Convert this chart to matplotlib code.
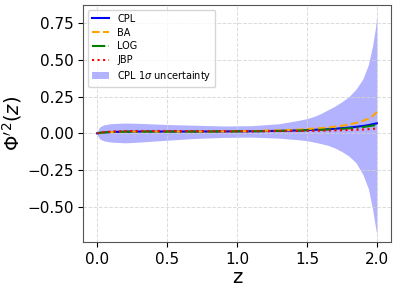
import numpy as np
from matplotlib import pyplot as plt

# 红移采样点
z = [0.0, 0.02, 0.05, 0.1, 0.2, 0.3, 0.5, 0.7, 0.9, 1.1, 1.3, 1.45, 1.5, 1.55,
     1.6, 1.65, 1.7, 1.75, 1.8, 1.85, 1.9, 1.94, 1.97, 1.99, 2.0]

cpl = [0.0, 0.003, 0.006, 0.009, 0.011, 0.012, 0.012, 0.012, 0.013, 0.014, 0.017, 0.02, 0.022, 0.024,
       0.026, 0.028, 0.031, 0.035, 0.039, 0.044, 0.05, 0.056, 0.062, 0.066, 0.068]
ba = [0.0, 0.003, 0.006, 0.009, 0.011, 0.012, 0.012, 0.012, 0.013, 0.015, 0.02, 0.026, 0.029, 0.032,
      0.036, 0.04, 0.045, 0.052, 0.06, 0.07, 0.085, 0.1, 0.118, 0.135, 0.145]
log = [0.0, 0.003, 0.006, 0.009, 0.011, 0.012, 0.012, 0.012, 0.013, 0.014, 0.016, 0.019, 0.021, 0.022,
       0.024, 0.026, 0.028, 0.031, 0.034, 0.038, 0.043, 0.048, 0.053, 0.056, 0.058]
jbp = [0.0, 0.004, 0.008, 0.012, 0.015, 0.016, 0.016, 0.015, 0.014, 0.014, 0.015, 0.016, 0.017, 0.017,
       0.018, 0.019, 0.02, 0.021, 0.022, 0.024, 0.026, 0.028, 0.03, 0.032, 0.033]

# CPL 1σ 区间上下界
cpl_upper = [0.01, 0.045, 0.058, 0.066, 0.07, 0.068, 0.06, 0.055, 0.05, 0.052, 0.065, 0.09, 0.1, 0.115,
             0.135, 0.16, 0.185, 0.215, 0.25, 0.3, 0.37, 0.47, 0.6, 0.72, 0.81]
cpl_lower = [-0.01, -0.04, -0.052, -0.06, -0.065, -0.06, -0.047, -0.035, -0.028, -0.026, -0.033, -0.045, -0.05, -0.06,
             -0.07, -0.082, -0.1, -0.125, -0.155, -0.2, -0.28, -0.38, -0.52, -0.64, -0.69]

fig, ax = plt.subplots(figsize=(3.96, 2.89), dpi=100)
fig.subplots_adjust(left=0.21, right=0.987, top=0.983, bottom=0.163)

ax.plot(z, cpl, color='blue', linestyle='-', linewidth=1.5, label='CPL')
ax.plot(z, ba, color='orange', linestyle='--', linewidth=1.5, label='BA')
ax.plot(z, log, color='green', linestyle='-.', linewidth=1.5, label='LOG')
ax.plot(z, jbp, color='red', linestyle=':', linewidth=1.5, label='JBP')
ax.fill_between(z, cpl_lower, cpl_upper, color='blue', alpha=0.3, linewidth=0,
                label=r'CPL 1$\sigma$ uncertainty')

ax.set_xlim(-0.1, 2.1)
ax.set_ylim(-0.74, 0.875)
ax.set_xticks([0.0, 0.5, 1.0, 1.5, 2.0])
ax.set_yticks([-0.5, -0.25, 0.0, 0.25, 0.5, 0.75])
ax.tick_params(labelsize=11)
ax.set_xlabel('z', fontsize=14, labelpad=1)
ax.set_ylabel(r"$\Phi'^2(z)$", fontsize=14, labelpad=2)
ax.grid(True, linestyle='--', color='lightgray', alpha=0.8, linewidth=0.7)
for s in ax.spines.values():
    s.set_color('#555555')

ax.legend(loc='upper left', fontsize=7, labelspacing=0.4, handlelength=1.8)

fig.savefig('out.png', dpi=100)
